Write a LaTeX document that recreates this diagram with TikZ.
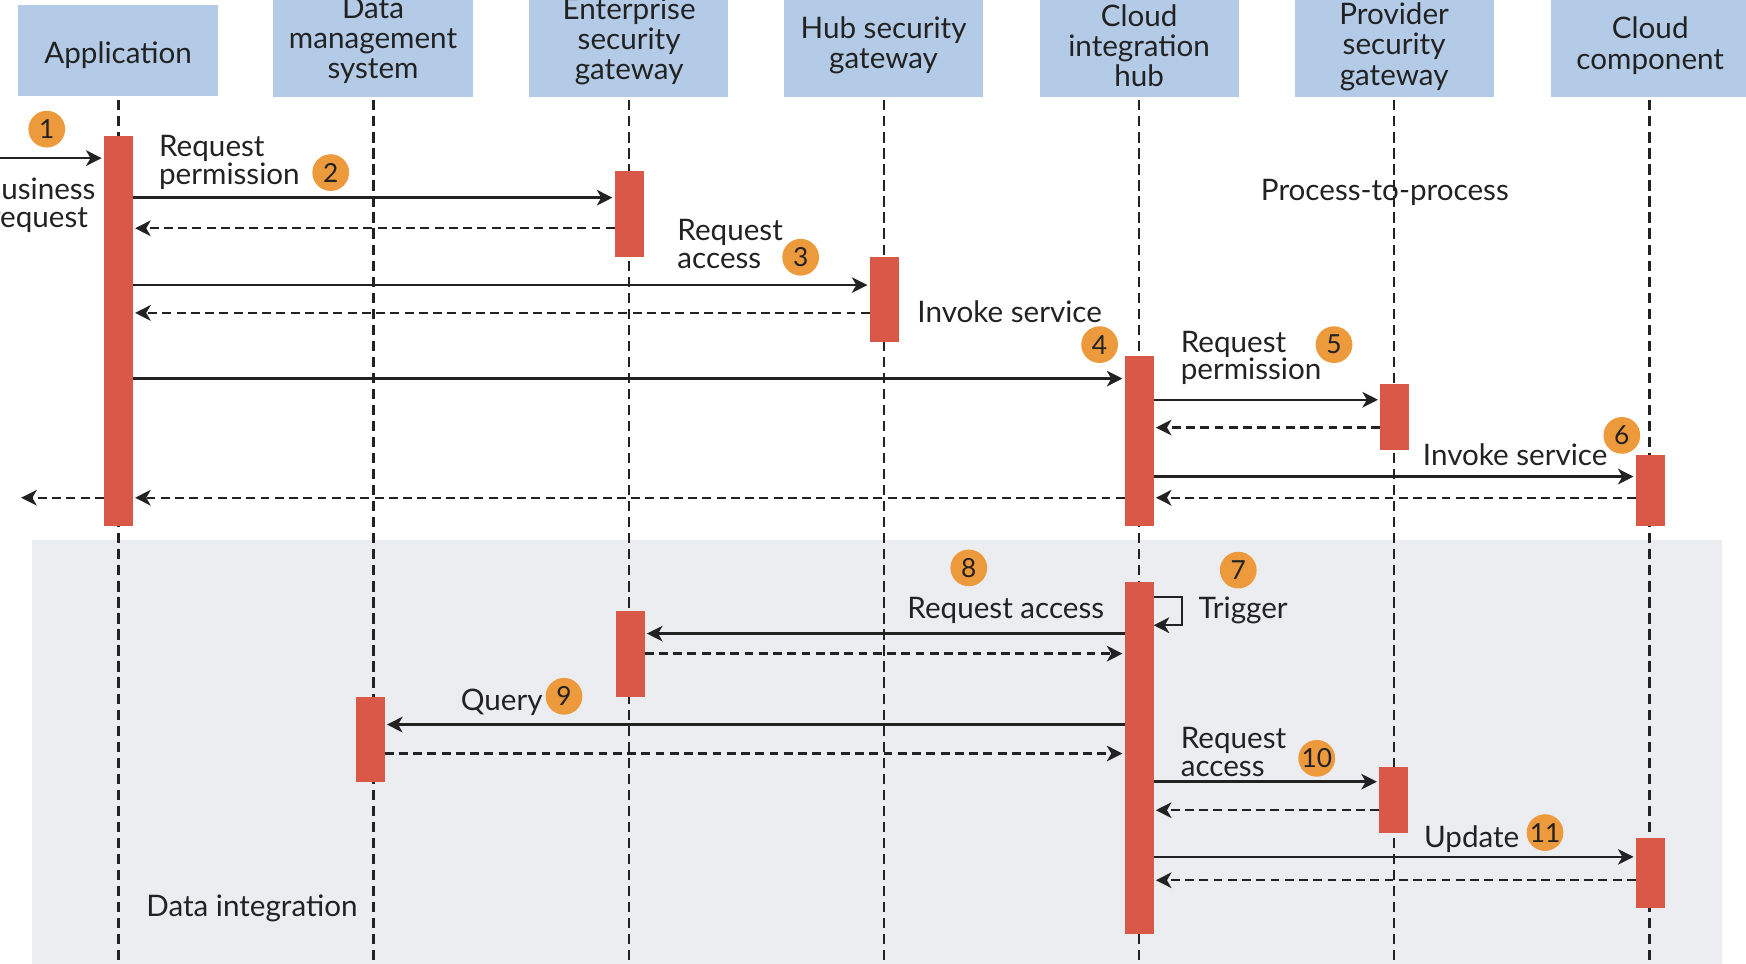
\documentclass[tikz,border=0pt]{standalone}
\usepackage{fontspec}
\setmainfont{Lato}
\usetikzlibrary{arrows.meta}
\definecolor{hdr}{HTML}{B4CBE8}
\definecolor{actred}{HTML}{DA5848}
\definecolor{numor}{HTML}{EC9A3C}
\definecolor{bggrey}{HTML}{ECEDF0}
\definecolor{ink}{HTML}{222222}
\tikzset{
  hdrtext/.style={align=center, font=\fontsize{13.3}{13.5}\selectfont, text=ink, inner sep=0pt},
  lbl/.style={align=left, anchor=west, font=\fontsize{13.3}{12.5}\selectfont, text=ink, inner sep=0pt},
  lifeline/.style={draw=ink, line width=1.2pt, dash pattern=on 4.6pt off 2.6pt},
  actbar/.style={fill=actred, draw=none, minimum width=13pt, inner sep=0pt, outer sep=0pt},
  num/.style={circle, fill=numor, minimum size=16.5pt, inner sep=0pt, font=\fontsize{11.8}{12}\selectfont, text=ink},
  msg/.style={draw=ink, line width=1.1pt, -{Stealth[length=7pt,width=7pt,inset=2pt]}, shorten >=1pt},
  ret/.style={msg, dash pattern=on 4pt off 2.4pt},
}
\newcommand\mybar[4]{\node[actbar, minimum height=#4*0.5pt] (#1) at (#2,#3) {};}
\begin{document}
\begin{tikzpicture}[x=0.5pt, y=-0.5pt]
\useasboundingbox (0,0) rectangle (1568,865.7);
% background for data integration
\fill[bggrey] (29,485) rectangle (1546.5,866);
% header boxes
\fill[hdr] (16.5,4.5) rectangle (195.5,86);
\fill[hdr] (245.5,0) rectangle (425,87);
\fill[hdr] (475,0) rectangle (654,87);
\fill[hdr] (704,0) rectangle (883,87);
\fill[hdr] (934,0) rectangle (1112.5,87);
\fill[hdr] (1163,0) rectangle (1341.5,87);
\fill[hdr] (1393,0) rectangle (1572,87);
\node[hdrtext] (happ) at (106,49.5) {Application};
\node[hdrtext] (hdm) at (335,36.5) {Data\\management\\system};
\node[hdrtext] (hent) at (565,37) {Enterprise\\security\\gateway};
\node[hdrtext] (hhub) at (793.5,40.5) {Hub security\\gateway};
\node[hdrtext] (hcih) at (1023,41) {Cloud\\integration\\hub};
\node[hdrtext] (hprov) at (1252,42) {Provider\\security\\gateway};
\node[hdrtext] (hcc) at (1482,41) {Cloud\\component};
% lifelines
\foreach \n/\x in {app/106.5, dm/335.5, ent/565, hub/794, cih/1023, prov/1252, cc/1481.5}{
  \coordinate (top\n) at (\x,90);
  \coordinate (bot\n) at (\x,866);
  \draw[lifeline] (top\n) -- (bot\n);
}
% activation bars
\mybar{appbar}{106.3}{297}{350}
\mybar{entbarA}{565}{192.5}{77}
\mybar{hubbar}{794}{269}{76}
\mybar{cihbarA}{1023}{396}{152}
\mybar{provbarA}{1252.5}{374.5}{59}
\mybar{ccbarA}{1482}{440.5}{63}
\mybar{entbarB}{566}{587.5}{77}
\mybar{dmbar}{332.5}{664}{77}
\mybar{cihbarB}{1023}{681}{316}
\mybar{provbarB}{1251.5}{718.5}{59}
\mybar{ccbarB}{1482}{784}{63.5}
% message heights
\foreach \n/\y in {ya/142, yb/177.5, yc/205, yd/256, ye/281, yf/340, yg/359, yh/384, yi/428, yj/447,
  yk/536, yl/561.5, ym/569, yn/587, yo/650.7, yp/676.7, yq/702, yr/727.6, ys/769.5, yt/790.5}{
  \coordinate (\n) at (0,\y);
}
\coordinate (bizin) at (-5,142);
\coordinate (bizout) at (17,447);
\coordinate (trigx) at (1061.5,0);
% messages, upper part
\draw[msg] (bizin) -- (appbar.west |- ya);
\draw[msg] (appbar.east |- yb) -- (entbarA.west |- yb);
\draw[ret] (entbarA.west |- yc) -- (appbar.east |- yc);
\draw[msg] (appbar.east |- yd) -- (hubbar.west |- yd);
\draw[ret] (hubbar.west |- ye) -- (appbar.east |- ye);
\draw[msg] (appbar.east |- yf) -- (cihbarA.west |- yf);
\draw[msg] (cihbarA.east |- yg) -- (provbarA.west |- yg);
\draw[ret] (provbarA.west |- yh) -- (cihbarA.east |- yh);
\draw[msg] (cihbarA.east |- yi) -- (ccbarA.west |- yi);
\draw[ret] (ccbarA.west |- yj) -- (cihbarA.east |- yj);
\draw[ret] (cihbarA.west |- yj) -- (appbar.east |- yj);
\draw[ret] (appbar.west |- yj) -- (bizout);
% messages, data integration
\draw[msg, shorten >=0pt] (cihbarB.east |- yk) -- (trigx |- yk) -- (trigx |- yl) -- (cihbarB.east |- yl);
\draw[msg] (cihbarB.west |- ym) -- (entbarB.east |- ym);
\draw[ret] (entbarB.east |- yn) -- (cihbarB.west |- yn);
\draw[msg] (cihbarB.west |- yo) -- (dmbar.east |- yo);
\draw[ret] (dmbar.east |- yp) -- (cihbarB.west |- yp);
\draw[msg] (cihbarB.east |- yq) -- (provbarB.west |- yq);
\draw[ret] (provbarB.west |- yr) -- (cihbarB.east |- yr);
\draw[msg] (cihbarB.east |- ys) -- (ccbarB.west |- ys);
\draw[ret] (ccbarB.west |- yt) -- (cihbarB.east |- yt);
% labels
\node[lbl, align=center, anchor=center] (lbiz) at (35,184) {Business\\request};
\node[lbl] (lreqperm) at (142.5,146) {Request\\permission};
\node[lbl] (lreqacc) at (608,219.5) {Request\\access};
\node[lbl] (linvoke) at (823.5,280) {Invoke service};
\node[lbl] (lreqperm2) at (1060,321.5) {Request\\permission};
\node[lbl] (linvoke2) at (1277.5,408.5) {Invoke service};
\node[lbl] (lptp) at (1132,172.5) {Process-to-process};
\node[lbl] (lreqacc2) at (814.5,548.5) {Request access};
\node[lbl] (ltrig) at (1076,548.5) {Trigger};
\node[lbl] (lquery) at (413.5,630.5) {Query};
\node[lbl] (lreqacc3) at (1060,675) {Request\\access};
\node[lbl] (lupdate) at (1278.5,753.5) {Update};
\node[lbl] (ldi) at (131,815.5) {Data integration};
% step numbers
\foreach \n/\x/\y in {1/42/116, 2/297/155, 3/719/231, 4/987.5/309.5, 5/1198/309.5, 6/1456.5/391,
  7/1112/512, 8/870/510, 9/506.5/625.3, 10/1182.5/681, 11/1387.5/747.7}{
  \node[num] (n\n) at (\x,\y) {\n};
}
\end{tikzpicture}
\end{document}
